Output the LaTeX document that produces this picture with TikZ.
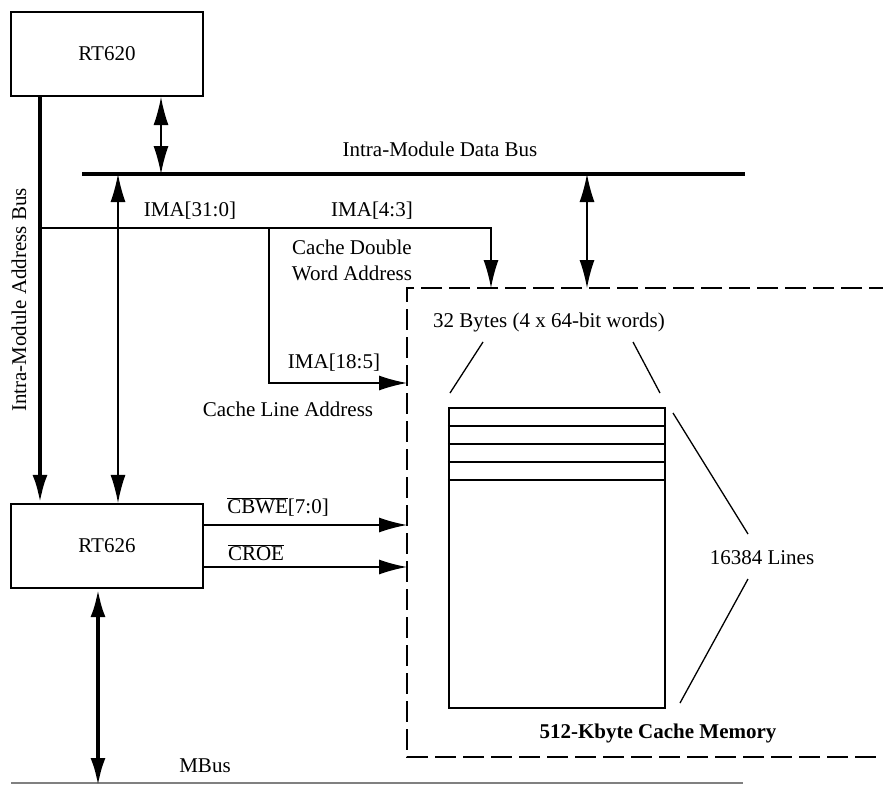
\documentclass[tikz,border=0pt]{standalone}
\usepackage{fontspec}
\setmainfont{Liberation Serif}
\usetikzlibrary{arrows.meta}
\begin{document}
\begin{tikzpicture}[x=1pt,y=-1pt,
  every node/.style={font=\fontsize{21}{26}\selectfont, inner sep=0pt},
  blk/.style={draw, line width=2.2pt, minimum width=192pt, minimum height=84pt},
  bus/.style={line width=4pt},
  sig/.style={line width=1.3pt},
  tip/.style={-{Latex[length=28pt,width=15pt]}},
  dtip/.style={{Latex[length=28pt,width=15pt]}-{Latex[length=28pt,width=15pt]}},
  dashbox/.style={line width=1.3pt, dash pattern=on 21pt off 7pt}]
\useasboundingbox (0,0) rectangle (883,784);
% blocks
\node[blk] (rt620) at (107,54) {RT620};
\node[blk] (rt626) at (107,546) {RT626};
\node[draw, line width=2.2pt, minimum width=216pt, minimum height=300pt] (mem) at (557,558) {};
% helper coordinates
\coordinate (xab) at (40,0);
\coordinate (x161) at (161,0);
\coordinate (x118) at (118,0);
\coordinate (x587) at (587,0);
\coordinate (x98) at (98,0);
\coordinate (y525) at (0,525);
\coordinate (y567) at (0,567);
\coordinate (dbL) at (82,174);
\coordinate (dbR) at (745,174);
\coordinate (imaL) at (40,228);
\coordinate (imaR) at (491,228);
\coordinate (br) at (269,228);
\coordinate (brB) at (269,383);
\coordinate (cbTR) at (890,288);
\coordinate (cbTL) at (407,288);
\coordinate (cbBL) at (407,757);
\coordinate (cbBR) at (890,757);
\coordinate (mbL) at (11,783);
\coordinate (mbR) at (743,783);
\coordinate (mbT) at (98,786);
% buses
\draw[bus] (dbL) -- (dbR);
\draw[bus,tip] (rt620.south -| xab) -- (rt626.north -| xab);
\draw[sig,dtip] (rt620.south -| x161) -- (dbL -| x161);
\draw[sig,dtip] (dbL -| x118) -- (rt626.north -| x118);
\draw[sig,tip] (imaL) -- (imaR) -- (cbTL -| imaR);
\draw[sig,tip] (br) -- (brB) -- (brB -| cbTL);
\draw[sig,dtip] (dbL -| x587) -- (cbTL -| x587);
\draw[dashbox] (cbTR) -- (cbTL) -- (cbBL) -- (cbBR);
\draw[sig,tip] (rt626.east |- y525) -- (cbTL |- y525);
\draw[sig,tip] (rt626.east |- y567) -- (cbTL |- y567);
\draw[gray, line width=1.5pt] (mbL) -- (mbR);
\draw[bus,dtip] (rt626.south -| x98) -- (mbT);
% memory rows
\foreach \yy in {426,444,462,480}
  \draw[sig] (mem.west |- 0,\yy) -- (mem.east |- 0,\yy);
% labels
\node (ldb) at (440,149) {Intra-Module Data Bus};
\node[rotate=90] (lab) at (19,300) {Intra-Module Address Bus};
\node (l310) at (190,211) {IMA[31:0]};
\node (l43) at (372,211) {IMA[4:3]};
\node[align=center] (lcdw) at (352,260) {Cache Double\\Word Address};
\node (l185) at (334,363) {IMA[18:5]};
\node (lcla) at (288,409) {Cache Line Address};
\node (l32) at (549,322) {32 Bytes (4 x 64-bit words)};
\node (llines) at (762,558) {16384 Lines};
\node[font=\fontsize{21}{26}\selectfont\bfseries] (lmem) at (658,733) {512-Kbyte Cache Memory};
\node (lcbwe) at (278,507) {$\overline{\mbox{CBWE}}$[7:0]};
\node (lcroe) at (256,553) {$\overline{\mbox{CROE}}$};
\node (lmbus) at (205,766) {MBus};
% zoom lines
\coordinate (z1a) at (483,342); \coordinate (z1b) at (450,393);
\coordinate (z2a) at (633,342); \coordinate (z2b) at (660,393);
\coordinate (z3a) at (673,413); \coordinate (z3b) at (748,534);
\coordinate (z4a) at (748,579); \coordinate (z4b) at (680,703);
\draw[sig] (z1a) -- (z1b);
\draw[sig] (z2a) -- (z2b);
\draw[sig] (z3a) -- (z3b);
\draw[sig] (z4a) -- (z4b);
\end{tikzpicture}
\end{document}
